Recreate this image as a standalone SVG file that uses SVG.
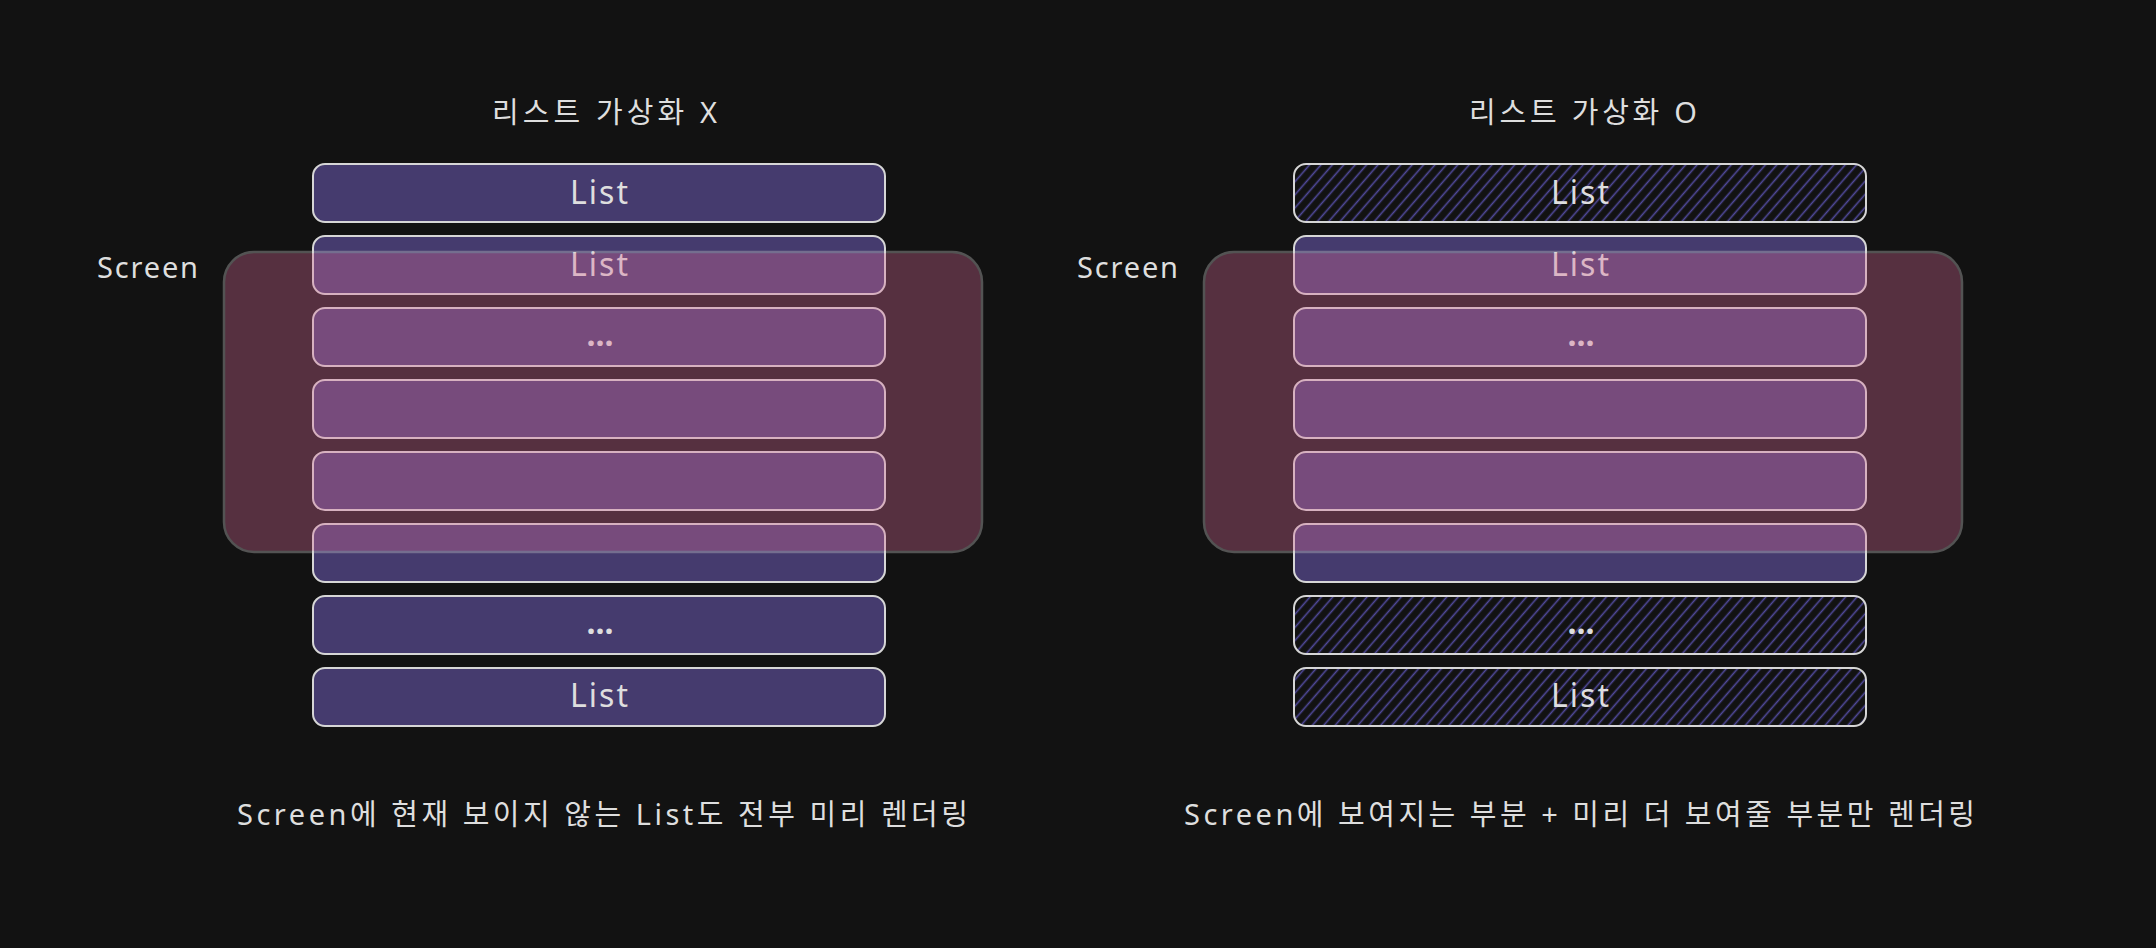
<svg xmlns="http://www.w3.org/2000/svg" width="2156" height="948" viewBox="0 0 2156 948">
<style>
.t{font-family:"Noto Sans","Noto Sans CJK KR",sans-serif;fill:#dedede;}
.title{font-size:29px;}
.lbl{font-size:32px;text-anchor:middle;}
.dots{font-size:32px;text-anchor:middle;font-weight:bold;}
.cap{font-size:29px;}
.solid{fill:#453b6e;stroke:#d6d6d6;stroke-width:2;}
.hatch{fill:url(#hach);stroke:#d6d6d6;stroke-width:2;}
.screen{fill:#d96c98;stroke:#d0d0d0;stroke-width:2.5;opacity:0.34;}
</style>
<defs>
<pattern id="hach" patternUnits="userSpaceOnUse" width="8.6" height="20" patternTransform="rotate(41)">
<line x1="4.3" y1="-2" x2="4.3" y2="22" stroke="#514a9c" stroke-width="1.6"/>
</pattern>
</defs>
<rect width="2156" height="948" fill="#121212"/>
<g id="connectors"/>

<g id="left-title"><text class="t title" x="492" y="123" textLength="225" lengthAdjust="spacing">리스트 가상화 X</text></g>
<g id="right-title"><text class="t title" x="1469" y="123" textLength="228" lengthAdjust="spacing">리스트 가상화 O</text></g>

<g id="left-list">
<g id="l0"><rect class="solid" x="313" y="164" width="572" height="58" rx="12"/><text class="t lbl" x="599" y="204" textLength="58" lengthAdjust="spacing">List</text></g>
<g id="l1"><rect class="solid" x="313" y="236" width="572" height="58" rx="12"/><text class="t lbl" x="599" y="276" textLength="58" lengthAdjust="spacing">List</text></g>
<g id="l2"><rect class="solid" x="313" y="308" width="572" height="58" rx="12"/><text class="t dots" x="600" y="346">...</text></g>
<g id="l3"><rect class="solid" x="313" y="380" width="572" height="58" rx="12"/></g>
<g id="l4"><rect class="solid" x="313" y="452" width="572" height="58" rx="12"/></g>
<g id="l5"><rect class="solid" x="313" y="524" width="572" height="58" rx="12"/></g>
<g id="l6"><rect class="solid" x="313" y="596" width="572" height="58" rx="12"/><text class="t dots" x="600" y="634">...</text></g>
<g id="l7"><rect class="solid" x="313" y="668" width="572" height="58" rx="12"/><text class="t lbl" x="599" y="707" textLength="58" lengthAdjust="spacing">List</text></g>
</g>

<g id="right-list">
<g id="r0"><rect class="hatch" x="1294" y="164" width="572" height="58" rx="12"/><text class="t lbl" x="1580" y="204" textLength="58" lengthAdjust="spacing">List</text></g>
<g id="r1"><rect class="solid" x="1294" y="236" width="572" height="58" rx="12"/><text class="t lbl" x="1580" y="276" textLength="58" lengthAdjust="spacing">List</text></g>
<g id="r2"><rect class="solid" x="1294" y="308" width="572" height="58" rx="12"/><text class="t dots" x="1581" y="346">...</text></g>
<g id="r3"><rect class="solid" x="1294" y="380" width="572" height="58" rx="12"/></g>
<g id="r4"><rect class="solid" x="1294" y="452" width="572" height="58" rx="12"/></g>
<g id="r5"><rect class="solid" x="1294" y="524" width="572" height="58" rx="12"/></g>
<g id="r6"><rect class="hatch" x="1294" y="596" width="572" height="58" rx="12"/><text class="t dots" x="1581" y="634">...</text></g>
<g id="r7"><rect class="hatch" x="1294" y="668" width="572" height="58" rx="12"/><text class="t lbl" x="1580" y="707" textLength="58" lengthAdjust="spacing">List</text></g>
</g>

<g id="left-screen"><rect class="screen" x="224" y="252" width="758" height="300" rx="30"/></g>
<g id="right-screen"><rect class="screen" x="1204" y="252" width="758" height="300" rx="30"/></g>

<g id="left-screen-label"><text class="t cap" x="97" y="278" textLength="101" lengthAdjust="spacing">Screen</text></g>
<g id="right-screen-label"><text class="t cap" x="1077" y="278" textLength="101" lengthAdjust="spacing">Screen</text></g>

<g id="left-caption"><text class="t cap" x="237" y="825" textLength="731" lengthAdjust="spacing">Screen에 현재 보이지 않는 List도 전부 미리 렌더링</text></g>
<g id="right-caption"><text class="t cap" x="1184" y="825" textLength="791" lengthAdjust="spacing">Screen에 보여지는 부분 + 미리 더 보여줄 부분만 렌더링</text></g>
</svg>
